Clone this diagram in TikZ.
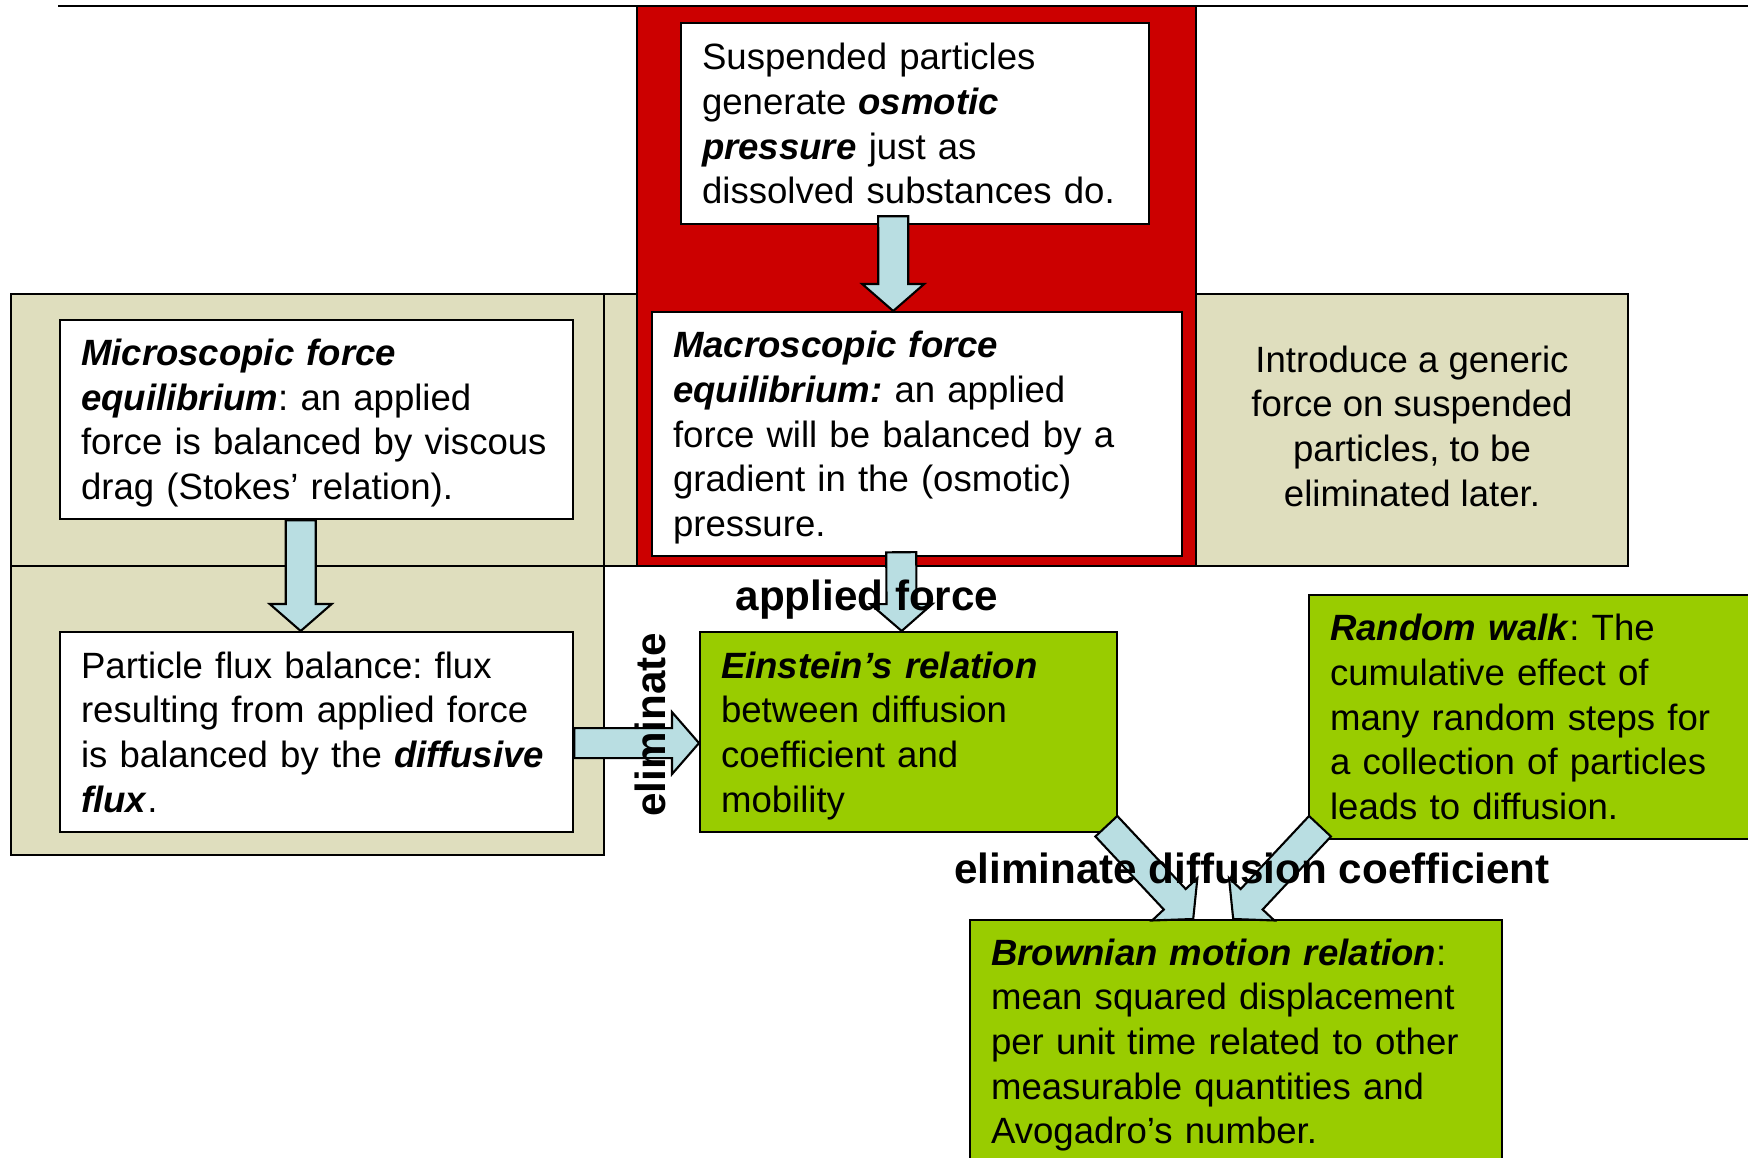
\documentclass[tikz,border=0pt]{standalone}
\usepackage{fontspec}
\setmainfont{Liberation Sans}
\usetikzlibrary{calc}
\frenchspacing

\definecolor{tanbg}{RGB}{223,222,190}
\definecolor{boxred}{RGB}{204,0,0}
\definecolor{leafgreen}{RGB}{153,204,0}
\definecolor{arrowblue}{RGB}{185,222,226}

\newcommand{\emphb}[1]{\textbf{\textit{#1}}}
% block arrow from #1 (tail) to #2 (tip)
\newcommand{\blockarrow}[2]{%
  \coordinate (hb) at ($(#2)!0.27cm!(#1)$);
  \filldraw[fatarrow] ($(#1)!0.15cm!90:(#2)$) -- ($(hb)!0.15cm!90:(#2)$)
    -- ($(hb)!0.31cm!90:(#2)$) -- (#2) -- ($(hb)!0.31cm!-90:(#2)$)
    -- ($(hb)!0.15cm!-90:(#2)$) -- ($(#1)!0.15cm!-90:(#2)$) -- cycle;}

\begin{document}
\begin{tikzpicture}[x=0.01cm, y=-0.01cm,
  box/.style={draw, line width=0.6pt, anchor=north west, align=left,
    inner xsep=0.21cm, inner ysep=0pt, font=\fontsize{10.4}{12.7}\selectfont},
  lower/.style={execute at end node={\endgraf\vspace{-#1}}},
  panel/.style={draw, line width=0.6pt},
  fatarrow/.style={draw, line width=0.6pt, fill=arrowblue, line join=miter},
  lbl/.style={font=\fontsize{12}{14}\selectfont\bfseries}]

\useasboundingbox (0,0) rectangle (1748,1158);
\draw[line width=0.6pt] (58,6) -- (1748,6);

% background panels
\filldraw[panel, fill=tanbg] (11,294) rectangle (1628,566);
\filldraw[panel, fill=tanbg] (11,294) rectangle (604,566);
\filldraw[panel, fill=tanbg] (11,566) rectangle (604,855);
\filldraw[panel, fill=boxred] (637,6) rectangle (1196,566);

% text boxes
\node[box, fill=white, text width=4.26cm, minimum height=2.01cm] (susp) at (680,22)
  {Suspended particles\\ generate \emphb{osmotic}\\ \emphb{pressure} just as\\ dissolved substances do.};
\node[box, lower=0.07cm, fill=white, text width=4.88cm, minimum height=2.44cm] (macro) at (651,311)
  {\emphb{Macroscopic force}\\ \emphb{equilibrium:} an applied\\ force will be balanced by a\\ gradient in the (osmotic)\\ pressure.};
\node[box, lower=0.07cm, fill=white, text width=4.71cm, minimum height=1.99cm] (micro) at (59,319)
  {\emphb{Microscopic force}\\ \emphb{equilibrium}: an applied\\ force is balanced by viscous\\ drag (Stokes’ relation).};
\node[box, fill=white, text width=4.71cm, minimum height=2.00cm] (flux) at (59,631)
  {Particle flux balance: flux\\ resulting from applied force\\ is balanced by the \emphb{diffusive}\\ \emphb{flux}.};
\node[align=center, font=\fontsize{10.4}{12.7}\selectfont] (intro) at (1412,426)
  {Introduce a generic\\ force on suspended\\ particles, to be\\ eliminated later.};
\node[box, lower=0.07cm, fill=leafgreen, text width=3.75cm, minimum height=2.00cm] (einst) at (699,631)
  {\emphb{Einstein’s relation}\\ between diffusion\\ coefficient and\\ mobility};
\node[box, fill=leafgreen, text width=4.10cm, minimum height=2.44cm] (rwalk) at (1308,594)
  {\emphb{Random walk}: The\\ cumulative effect of\\ many random steps for\\ a collection of particles\\ leads to diffusion.};
\node[box, lower=0.04cm, fill=leafgreen, text width=4.90cm, minimum height=2.46cm] (brown) at (969,919)
  {\emphb{Brownian motion relation}:\\ mean squared displacement\\ per unit time related to other\\ measurable quantities and\\ Avogadro’s number.};

% arrow ends
\coordinate (t1) at ($(susp.south)+(-22,-9)$);
\coordinate (h1) at ($(macro.north)+(-24,0)$);
\coordinate (t2) at ($(micro.south)+(-16,0)$);
\coordinate (h2) at ($(flux.north)+(-16,0)$);
\coordinate (t3) at ($(flux.east)+(0,11)$);
\coordinate (h3) at ($(einst.west)+(0,11)$);
\coordinate (t4) at ($(macro.south)+(-16,-5)$);
\coordinate (h4) at ($(einst.north)+(-7,0)$);
\coordinate (t5) at ($(einst.south east)+(-12,-7)$);
\coordinate (h5) at ($(brown.north)+(-43,0)$);
\coordinate (t6) at ($(rwalk.south west)+(12,-14)$);
\coordinate (h6) at ($(brown.north)+(-3,0)$);

\blockarrow{t1}{h1}
\blockarrow{t2}{h2}
\blockarrow{t3}{h3}
\blockarrow{t4}{h4}
\blockarrow{t5}{h5}
\blockarrow{t6}{h6}

% labels
\node[lbl] (force) at (867,600) {applied force};
\node[lbl, rotate=90] (elim) at (650,725) {eliminate};
\node[lbl] (elimd) at (1252,868) {eliminate diffusion coefficient};
\end{tikzpicture}
\end{document}
